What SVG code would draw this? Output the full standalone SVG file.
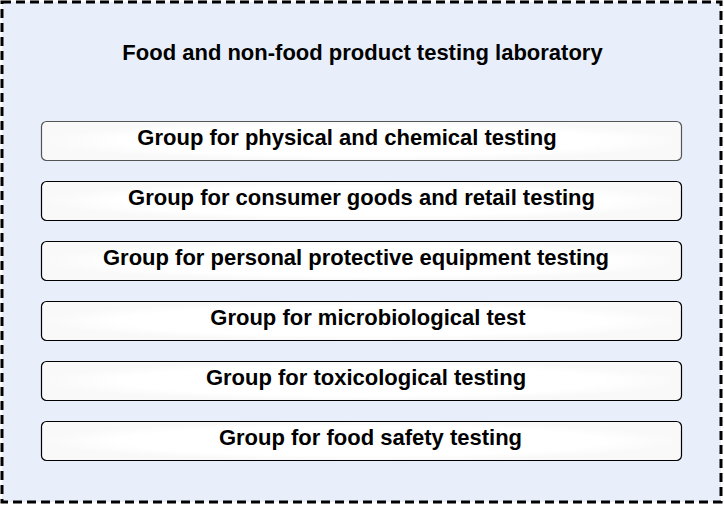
<svg xmlns="http://www.w3.org/2000/svg" width="724" height="506" viewBox="0 0 724 506">
<defs>
<style>
.frame{fill:#e8effb;stroke:#000;stroke-width:3;stroke-dasharray:9,5}
.box{fill:url(#g);stroke:#000;stroke-width:1.2}
.t{font-family:"Liberation Sans",Arial,sans-serif;font-weight:bold;fill:#000;text-anchor:middle}
.title{font-size:22px}
.lbl{font-size:22px}
</style>
<radialGradient id="g" cx="0.5" cy="0.5" r="0.5">
<stop offset="0" stop-color="#ffffff"/>
<stop offset="0.75" stop-color="#ffffff"/>
<stop offset="1" stop-color="#f9f9f9"/>
</radialGradient>
</defs>
<g id="container">
<rect class="frame" x="2" y="2" width="719" height="500"/>
<text class="t title" x="362.5" y="60">Food and non-food product testing laboratory</text>
</g>
<g id="connectors"></g>
<g id="n1"><rect class="box" x="41.5" y="121.5" width="640" height="39" rx="5" style="stroke:#555"/><text class="t lbl" x="347" y="145">Group for physical and chemical testing</text></g>
<g id="n2"><rect class="box" x="41.5" y="181.5" width="640" height="39" rx="5"/><text class="t lbl" x="361.5" y="205">Group for consumer goods and retail testing</text></g>
<g id="n3"><rect class="box" x="41.5" y="241.5" width="640" height="39" rx="5"/><text class="t lbl" x="356" y="265">Group for personal protective equipment testing</text></g>
<g id="n4"><rect class="box" x="41.5" y="301.5" width="640" height="39" rx="5"/><text class="t lbl" x="368" y="325">Group for microbiological test</text></g>
<g id="n5"><rect class="box" x="41.5" y="361.5" width="640" height="39" rx="5"/><text class="t lbl" x="366" y="385">Group for toxicological testing</text></g>
<g id="n6"><rect class="box" x="41.5" y="421.5" width="640" height="39" rx="5"/><text class="t lbl" x="370.5" y="445">Group for food safety testing</text></g>
</svg>
